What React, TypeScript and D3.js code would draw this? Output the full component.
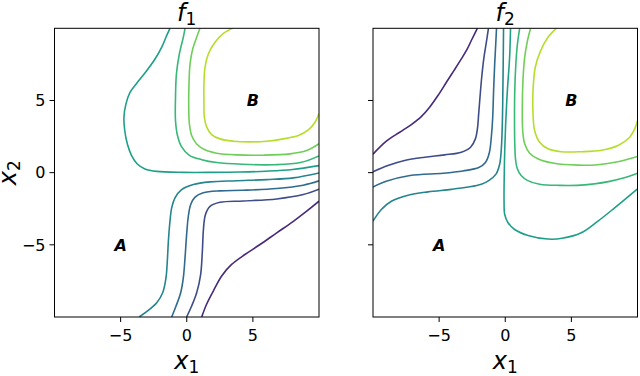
import React from "react"
import * as d3 from "d3"

const width = 640
const height = 376

const margin = { top: 28.3, bottom: 59 }
const panelLeft = [54.5, 373]
const panelWidth = 264.5

const ticks = [-5, 0, 5]
const tickLabels = ["\u22125", "0", "5"]

const panelTitles = ["1", "2"]

// eight contour levels, lowest (purple) to highest (yellow)
const levelColors = d3.range(8).map((i) => d3.interpolateViridis(0.12 + i * 0.11))

// f1 contour lines, points as [x1, x2]
const f1Lines: [number, number][][] = [
  [[1.13, -10], [1.5, -9.12], [2.01, -8.2], [2.64, -7.16], [3.39, -6.36], [4.4, -5.67], [5.54, -4.98], [6.8, -4.17], [8.06, -3.37], [9.07, -2.67], [10, -1.98]],
  [[-0.01, -10], [0.37, -9.24], [0.75, -8.32], [1.05, -7.06], [1.18, -5.44], [1.26, -3.95], [1.41, -2.91], [1.76, -2.33], [2.51, -2.05], [4.28, -1.96], [6.8, -1.82], [8.81, -1.52], [10, -1.15]],
  [[-1.14, -10], [-0.81, -9.24], [-0.46, -8.32], [-0.26, -7.29], [-0.13, -5.9], [-0.01, -4.29], [0.12, -3.02], [0.3, -2.21], [0.63, -1.7], [1.25, -1.4], [2.51, -1.26], [4.28, -1.22], [6.8, -1.1], [8.81, -0.87], [10, -0.57]],
  [[-3.6, -10], [-2.91, -9.54], [-2.27, -9.01], [-1.82, -8.32], [-1.57, -7.29], [-1.47, -6.13], [-1.39, -4.75], [-1.27, -3.37], [-1.14, -2.44], [-0.89, -1.74], [-0.39, -1.17], [0.5, -0.82], [1.76, -0.64], [3.77, -0.56], [6.04, -0.48], [8.06, -0.36], [10, -0.02]],
  [[-1.27, 10], [-1.52, 9.49], [-1.9, 8.68], [-2.4, 7.87], [-3.03, 7.06], [-3.74, 6.25], [-4.29, 5.56], [-4.6, 4.75], [-4.75, 3.84], [-4.69, 2.92], [-4.49, 1.99], [-4.17, 1.18], [-3.74, 0.6], [-3.16, 0.26], [-2.27, 0.09], [-0.26, 0.02], [2, 0.02], [4, 0.04], [6, 0.1], [8, 0.22], [10, 0.49]],
  [[-0.13, 10], [-0.26, 9.38], [-0.56, 8.22], [-0.78, 6.84], [-0.85, 5.22], [-0.85, 3.61], [-0.7, 2.57], [-0.4, 1.8], [0.2, 1.2], [1.13, 0.9], [2.26, 0.7], [4.2, 0.58], [6.6, 0.55], [8.6, 0.7], [10, 1.16]],
  [[1, 10], [0.75, 9.38], [0.45, 8.57], [0.25, 7.53], [0.17, 6.15], [0.15, 4.53], [0.2, 3.38], [0.37, 2.57], [0.75, 1.99], [1.38, 1.58], [2.26, 1.35], [3.77, 1.23], [5.79, 1.21], [7.81, 1.3], [9.07, 1.53], [10, 2.0]],
  [[3.47, 10], [2.77, 9.65], [2.14, 9.03], [1.63, 8.22], [1.38, 7.3], [1.3, 6.15], [1.3, 4.99], [1.33, 3.84], [1.51, 3.15], [1.88, 2.64], [2.51, 2.34], [3.52, 2.18], [4.78, 2.13], [6.04, 2.18], [7.3, 2.34], [8.44, 2.57], [9.19, 2.96], [9.7, 3.49], [10, 4.1]],
]

// f2 contour lines
const f2Lines: [number, number][][] = [
  [[-2.11, 10], [-2.51, 9.26], [-2.87, 8.57], [-3.32, 7.88], [-3.88, 7.07], [-4.45, 6.26], [-5.09, 5.34], [-5.72, 4.53], [-6.35, 3.88], [-7.1, 3.33], [-7.98, 2.8], [-8.99, 2.18], [-10, 1.28]],
  [[-1.27, 10], [-1.41, 9.14], [-1.61, 7.99], [-1.78, 6.61], [-1.91, 5.22], [-2.01, 4.07], [-2.09, 3.15], [-2.26, 2.34], [-2.62, 1.76], [-3.32, 1.42], [-4.58, 1.23], [-6.09, 1.07], [-7.61, 0.84], [-8.87, 0.49], [-10, 0.06]],
  [[-0.66, 10], [-0.72, 8.9], [-0.8, 7.5], [-0.88, 5.7], [-0.95, 3.8], [-1.05, 2.5], [-1.2, 1.4], [-1.5, 0.7], [-2.0, 0.35], [-3.2, 0.12], [-4.7, -0.04], [-7.2, -0.2], [-9.0, -0.6], [-10, -1.0]],
  [[-0.13, 10], [-0.15, 8], [-0.18, 5.7], [-0.22, 3.4], [-0.3, 1.6], [-0.42, 0.6], [-0.7, -0.1], [-1.25, -0.55], [-1.81, -0.8], [-2.82, -1.0], [-4.08, -1.16], [-5.84, -1.33], [-7.35, -1.56], [-8.61, -1.98], [-9.37, -2.55], [-10, -3.36]],
  [[0.4, 10], [0.33, 8], [0.16, 5.68], [0.03, 3.38], [-0.04, 1.53], [-0.07, 0.15], [-0.09, -1.98], [-0.04, -2.9], [0.21, -3.47], [0.71, -3.94], [1.72, -4.35], [3.23, -4.6], [4.3, -4.55], [5.75, -4.17], [7.01, -3.36], [8.27, -2.44], [10, -1.12]],
  [[1.09, 10], [0.92, 8.9], [0.8, 7.5], [0.72, 5.7], [0.7, 3.8], [0.72, 2.0], [0.78, 0.9], [0.9, 0.3], [1.2, -0.2], [1.7, -0.55], [2.6, -0.8], [4.1, -0.88], [6.0, -0.85], [7.8, -0.62], [9.0, -0.36], [10, -0.04]],
  [[1.92, 10], [1.67, 9.1], [1.47, 8.0], [1.34, 6.4], [1.29, 4.5], [1.32, 2.9], [1.47, 2.0], [1.85, 1.35], [2.5, 0.95], [3.7, 0.65], [5.5, 0.52], [7.0, 0.55], [8.5, 0.75], [10, 1.12]],
  [[3.86, 10], [3.23, 9.38], [2.68, 8.45], [2.27, 7.3], [2.1, 5.68], [2.1, 4.07], [2.22, 2.92], [2.6, 2.11], [3.23, 1.65], [4.24, 1.45], [5.75, 1.45], [7.27, 1.55], [8.53, 1.88], [9.41, 2.45], [9.79, 3.03], [10, 3.6]],
]

const panelLines = [f1Lines, f2Lines]

const regionNames = ["A", "B"]
const regionPoints: [number, number][] = [[-5, -5], [5, 5]]

const font = "DejaVu Sans, sans-serif"

function Panel({ index }: { index: number }) {
  const left = panelLeft[index]
  const bottom = height - margin.bottom
  const xScale = d3.scaleLinear().domain([-10, 10]).range([left, left + panelWidth])
  const yScale = d3.scaleLinear().domain([-10, 10]).range([bottom, margin.top])

  const line = d3
    .line<[number, number]>()
    .x((d) => xScale(d[0]))
    .y((d) => yScale(d[1]))
    .curve(d3.curveCatmullRom.alpha(0.5))

  const clipId = `clip-${index}`
  const centerX = left + panelWidth / 2

  return (
    <g>
      <clipPath id={clipId}>
        <rect x={left} y={margin.top} width={panelWidth} height={bottom - margin.top} />
      </clipPath>
      <g clipPath={`url(#${clipId})`}>
        {panelLines[index].map((pts, i) => (
          <path key={i} d={line(pts) || ""} fill="none" stroke={levelColors[i]} strokeWidth={1.6} />
        ))}
      </g>
      {regionNames.map((name, i) => (
        <text
          key={name}
          x={xScale(regionPoints[i][0])}
          y={yScale(regionPoints[i][1])}
          textAnchor="middle"
          dy="0.36em"
          fontFamily={font}
          fontSize={16}
          fontWeight="bold"
          fontStyle="italic"
        >
          {name}
        </text>
      ))}
      <rect
        x={left}
        y={margin.top}
        width={panelWidth}
        height={bottom - margin.top}
        fill="none"
        stroke="#000"
        strokeWidth={1}
      />
      {ticks.map((t, i) => (
        <g key={`x${t}`}>
          <line x1={xScale(t)} x2={xScale(t)} y1={bottom} y2={bottom + 5} stroke="#000" />
          <text x={xScale(t)} y={341} textAnchor="middle" fontFamily={font} fontSize={16}>
            {tickLabels[i]}
          </text>
        </g>
      ))}
      {ticks.map((t, i) => (
        <g key={`y${t}`}>
          <line x1={left - 5} x2={left} y1={yScale(t)} y2={yScale(t)} stroke="#000" />
          {index === 0 && (
            <text x={left - 9} y={yScale(t)} dy="0.36em" textAnchor="end" fontFamily={font} fontSize={16}>
              {tickLabels[i]}
            </text>
          )}
        </g>
      ))}
      <text x={centerX} y={21} textAnchor="middle" fontFamily={font} fontSize={24}>
        <tspan fontStyle="italic">f</tspan>
        <tspan fontSize={17} dy={4}>{panelTitles[index]}</tspan>
      </text>
      <text x={centerX} y={369} textAnchor="middle" fontFamily={font} fontSize={24}>
        <tspan fontStyle="italic">x</tspan>
        <tspan fontSize={17} dy={4}>1</tspan>
      </text>
    </g>
  )
}

function App() {
  const yMid = (margin.top + height - margin.bottom) / 2
  return (
    <svg
      width={width}
      height={height}
      style={{ position: "absolute", left: 0, top: 0, background: "#fff" }}
    >
      <Panel index={0} />
      <Panel index={1} />
      <text
        transform={`translate(16, ${yMid}) rotate(-90)`}
        textAnchor="middle"
        fontFamily={font}
        fontSize={24}
      >
        <tspan fontStyle="italic">x</tspan>
        <tspan fontSize={17} dy={4}>2</tspan>
      </text>
    </svg>
  )
}

export default App
